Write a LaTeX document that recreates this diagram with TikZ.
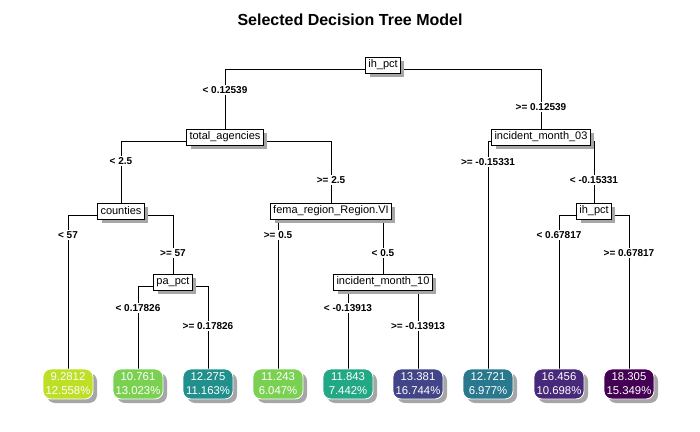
\documentclass[tikz,border=0pt]{standalone}
\usepackage{fontspec}
\setmainfont{Liberation Sans}
\usetikzlibrary{shadows,backgrounds}
\definecolor{leafA}{HTML}{BDDF26}
\definecolor{leafB}{HTML}{7AD151}
\definecolor{leafC}{HTML}{21908C}
\definecolor{leafD}{HTML}{7AD151}
\definecolor{leafE}{HTML}{22A884}
\definecolor{leafF}{HTML}{414487}
\definecolor{leafG}{HTML}{2A788E}
\definecolor{leafH}{HTML}{482878}
\definecolor{leafI}{HTML}{440154}
\tikzset{
  splitbox/.style={draw=black, fill=white, line width=0.75pt, inner sep=2pt,
    minimum height=12pt, font=\fontsize{8.25}{9}\selectfont,
    drop shadow={shadow xshift=3pt, shadow yshift=-3pt, fill=black!35, opacity=1}},
  leafbox/.style={draw=white, fill=#1, line width=0.6pt, rounded corners=6pt,
    text=white, align=center, minimum width=37.5pt, minimum height=22.5pt,
    inner sep=1pt, font=\fontsize{8.5}{10.5}\selectfont,
    drop shadow={shadow xshift=3pt, shadow yshift=-3pt, fill=black!35, opacity=1}},
  cutlabel/.style={fill=white, inner sep=1pt, font=\bfseries\fontsize{7.5}{9}\selectfont},
  branch/.style={draw=black, line width=0.75pt}
}
\begin{document}
\begin{tikzpicture}[x=0.75pt,y=-0.75pt]
\useasboundingbox (0,0) rectangle (700,432);

\node[font=\bfseries\fontsize{12}{14}\selectfont] (title) at (350,20) {Selected Decision Tree Model};

\node[splitbox] (n1) at (383,65) {ih\_pct};
\node[splitbox] (n2) at (225,137) {total\_agencies};
\node[splitbox] (n3) at (541,137) {incident\_month\_03};
\node[splitbox] (n4) at (121,211) {counties};
\node[splitbox] (n5) at (331,211) {fema\_region\_Region.VI};
\node[splitbox] (n7) at (594,211) {ih\_pct};
\node[splitbox] (n9) at (173,282) {pa\_pct};
\node[splitbox] (n11) at (383,282) {incident\_month\_10};

\node[leafbox=leafA] (l1) at (68,384) {9.2812\\12.558\%};
\node[leafbox=leafB] (l2) at (138,384) {10.761\\13.023\%};
\node[leafbox=leafC] (l3) at (208,384) {12.275\\11.163\%};
\node[leafbox=leafD] (l4) at (278,384) {11.243\\6.047\%};
\node[leafbox=leafE] (l5) at (348,384) {11.843\\7.442\%};
\node[leafbox=leafF] (l6) at (418,384) {13.381\\16.744\%};
\node[leafbox=leafG] (l7) at (488,384) {12.721\\6.977\%};
\node[leafbox=leafH] (l8) at (559,384) {16.456\\10.698\%};
\node[leafbox=leafI] (l9) at (629,384) {18.305\\15.349\%};

\node[cutlabel] (c1l) at (n2 |- 0,90) {< 0.12539};
\node[cutlabel] (c1r) at (n3 |- 0,107) {>= 0.12539};
\node[cutlabel] (c2l) at (n4 |- 0,161) {< 2.5};
\node[cutlabel] (c2r) at (n5 |- 0,180) {>= 2.5};
\node[cutlabel] (c3l) at (l7 |- 0,162) {>= -0.15331};
\node[cutlabel] (c3r) at (n7 |- 0,180) {< -0.15331};
\node[cutlabel] (c4l) at (l1 |- 0,235) {< 57};
\node[cutlabel] (c4r) at (n9 |- 0,253) {>= 57};
\node[cutlabel] (c5l) at (l4 |- 0,235) {>= 0.5};
\node[cutlabel] (c5r) at (n11 |- 0,253) {< 0.5};
\node[cutlabel] (c7l) at (l8 |- 0,235) {< 0.67817};
\node[cutlabel] (c7r) at (l9 |- 0,253) {>= 0.67817};
\node[cutlabel] (c9l) at (l2 |- 0,308) {< 0.17826};
\node[cutlabel] (c9r) at (l3 |- 0,326) {>= 0.17826};
\node[cutlabel] (c11l) at (l5 |- 0,308) {< -0.13913};
\node[cutlabel] (c11r) at (l6 |- 0,326) {>= -0.13913};

\begin{scope}[on background layer]
\draw[branch] ([yshift=-3pt]n1.center) -| (n2.north);
\draw[branch] ([yshift=-3pt]n1.center) -| (n3.north);
\draw[branch] ([yshift=-3pt]n2.center) -| (n4.north);
\draw[branch] ([yshift=-3pt]n2.center) -| (n5.north);
\draw[branch] ([yshift=-3pt]n3.center) -| (l7.north);
\draw[branch] ([yshift=-3pt]n3.center) -| (n7.north);
\draw[branch] ([yshift=-3pt]n4.center) -| (l1.north);
\draw[branch] ([yshift=-3pt]n4.center) -| (n9.north);
\draw[branch] ([yshift=-3pt]n5.center) -| (l4.north);
\draw[branch] ([yshift=-3pt]n5.center) -| (n11.north);
\draw[branch] ([yshift=-3pt]n7.center) -| (l8.north);
\draw[branch] ([yshift=-3pt]n7.center) -| (l9.north);
\draw[branch] ([yshift=-3pt]n9.center) -| (l2.north);
\draw[branch] ([yshift=-3pt]n9.center) -| (l3.north);
\draw[branch] ([yshift=-3pt]n11.center) -| (l5.north);
\draw[branch] ([yshift=-3pt]n11.center) -| (l6.north);
\end{scope}
\end{tikzpicture}
\end{document}
